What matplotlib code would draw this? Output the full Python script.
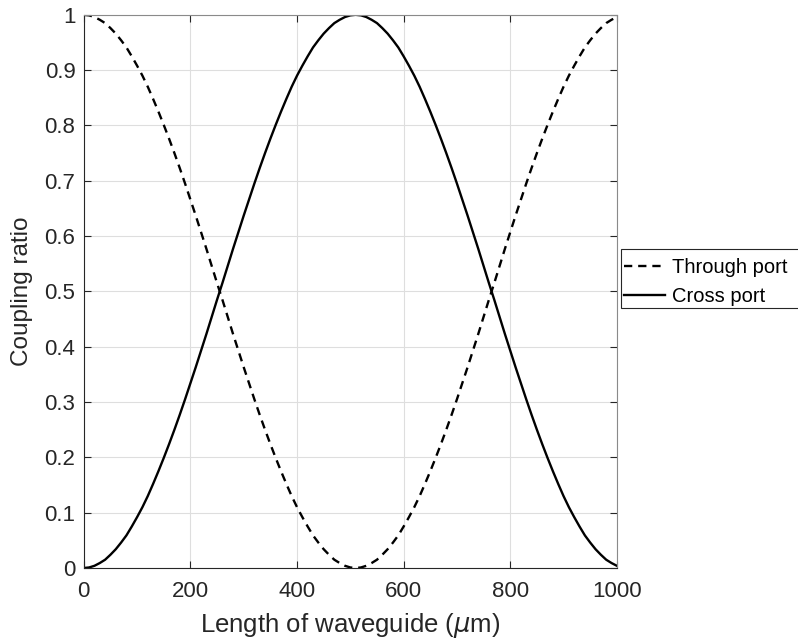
import matplotlib
matplotlib.use("Agg")
import matplotlib.pyplot as plt
from matplotlib.patches import Rectangle
from matplotlib.ticker import FuncFormatter

plt.rcParams['font.family'] = ['Liberation Sans', 'DejaVu Sans']

# waveguide length (um), read every 10 um
length_um = list(range(0, 1001, 10))

through_port = [1.000, 0.999, 0.996, 0.991, 0.985, 0.976, 0.966, 0.954, 0.941, 0.925,
                0.908, 0.890, 0.870, 0.848, 0.825, 0.801, 0.776, 0.750, 0.723, 0.695,
                0.666, 0.637, 0.607, 0.577, 0.546, 0.515, 0.485, 0.454, 0.423, 0.393,
                0.363, 0.334, 0.305, 0.277, 0.250, 0.224, 0.199, 0.175, 0.152, 0.130,
                0.110, 0.092, 0.075, 0.059, 0.046, 0.034, 0.024, 0.015, 0.009, 0.004,
                0.001, 0.000, 0.001, 0.004, 0.009, 0.015, 0.024, 0.034, 0.046, 0.059,
                0.075, 0.092, 0.110, 0.130, 0.152, 0.175, 0.199, 0.224, 0.250, 0.277,
                0.305, 0.334, 0.363, 0.393, 0.423, 0.454, 0.485, 0.515, 0.546, 0.577,
                0.607, 0.637, 0.666, 0.695, 0.723, 0.750, 0.776, 0.801, 0.825, 0.848,
                0.870, 0.890, 0.908, 0.925, 0.941, 0.954, 0.966, 0.976, 0.985, 0.991,
                0.996]

cross_port = [0.000, 0.001, 0.004, 0.009, 0.015, 0.024, 0.034, 0.046, 0.059, 0.075,
              0.092, 0.110, 0.130, 0.152, 0.175, 0.199, 0.224, 0.250, 0.277, 0.305,
              0.334, 0.363, 0.393, 0.423, 0.454, 0.485, 0.515, 0.546, 0.577, 0.607,
              0.637, 0.666, 0.695, 0.723, 0.750, 0.776, 0.801, 0.825, 0.848, 0.870,
              0.890, 0.908, 0.925, 0.941, 0.954, 0.966, 0.976, 0.985, 0.991, 0.996,
              0.999, 1.000, 0.999, 0.996, 0.991, 0.985, 0.976, 0.966, 0.954, 0.941,
              0.925, 0.908, 0.890, 0.870, 0.848, 0.825, 0.801, 0.776, 0.750, 0.723,
              0.695, 0.666, 0.637, 0.607, 0.577, 0.546, 0.515, 0.485, 0.454, 0.423,
              0.393, 0.363, 0.334, 0.305, 0.277, 0.250, 0.224, 0.199, 0.175, 0.152,
              0.130, 0.110, 0.092, 0.075, 0.059, 0.046, 0.034, 0.024, 0.015, 0.009,
              0.004]

x_ticks = [0, 200, 400, 600, 800, 1000]
y_ticks = [0, 0.1, 0.2, 0.3, 0.4, 0.5, 0.6, 0.7, 0.8, 0.9, 1]

txt = '#262626'
fig = plt.figure(figsize=(7.98, 6.44), dpi=100)
ax = fig.add_axes([0.105, 0.118, 0.668, 0.859])

ax.plot(length_um, through_port, color='black', lw=1.7, ls=(0, (3.5, 2.5)), label='Through port')
ax.plot(length_um, cross_port, color='black', lw=1.7, label='Cross port')

ax.set_xlim(0, 1000)
ax.set_ylim(0, 1)
ax.set_xticks(x_ticks)
ax.set_yticks(y_ticks)
ax.yaxis.set_major_formatter(FuncFormatter(lambda v, p: '%g' % v))
ax.grid(True, color='#dedede', lw=0.8)
ax.set_axisbelow(True)
ax.tick_params(direction='in', top=True, right=True, length=5, width=0.8,
               labelsize=16, colors=txt)
ax.tick_params(axis='x', pad=9)
ax.tick_params(axis='y', pad=6)
for s in ['left', 'bottom']:
    ax.spines[s].set_color(txt)
    ax.spines[s].set_linewidth(0.8)
for s in ['top', 'right']:
    ax.spines[s].set_color('#8a8a8a')
    ax.spines[s].set_linewidth(0.8)

ax.set_xlabel(r'Length of waveguide ($\mu$m)', fontsize=18.5, color=txt, labelpad=7)
ax.set_ylabel('Coupling ratio', fontsize=17.5, color=txt, labelpad=8)

# legend box runs off the right edge like the original
fig.patches.append(Rectangle((0.7782, 0.5217), 0.3, 0.0916, transform=fig.transFigure,
                             facecolor='white', edgecolor=txt, lw=0.8, zorder=2))
fig.legend(loc='upper left', bbox_to_anchor=(0.782, 0.599),
           fontsize=14.5, frameon=False,
           handlelength=2.05, handletextpad=0.35, labelspacing=0.5,
           borderpad=0, borderaxespad=0)

fig.savefig('out.png', dpi=100)
